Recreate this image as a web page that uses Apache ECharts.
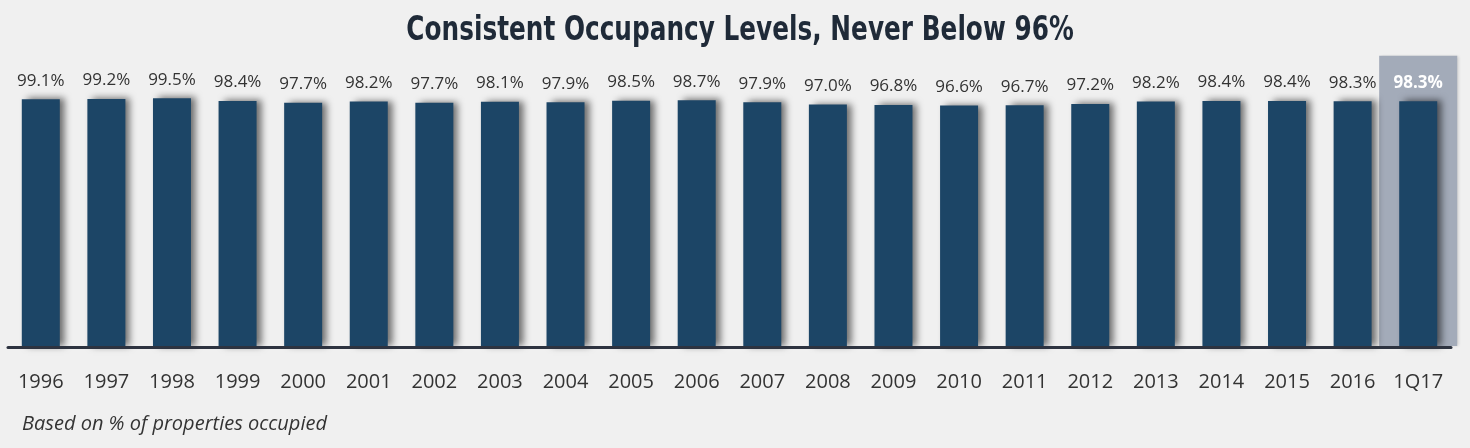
<!DOCTYPE html>
<html>
<head>
<meta charset="utf-8">
<script src="https://cdn.jsdelivr.net/npm/echarts@6/dist/echarts.min.js"></script>
<style>
   html, body { margin: 0; padding: 0; background: #f0f0f0; }
   #chart { width: 1470px; height: 448px; }
</style>
</head>
<body>
<div id="chart"></div>
<script>
// occupancy by year, last one is the quarter
const categories = ['1996', '1997', '1998', '1999', '2000', '2001', '2002', '2003', '2004', '2005', '2006',
   '2007', '2008', '2009', '2010', '2011', '2012', '2013', '2014', '2015', '2016', '1Q17'];
const occupancy = [99.1, 99.2, 99.5, 98.4, 97.7, 98.2, 97.7, 98.1, 97.9, 98.5, 98.7,
   97.9, 97.0, 96.8, 96.6, 96.7, 97.2, 98.2, 98.4, 98.4, 98.3, 98.3];
const highlightIndex = 21;
const highlightTop = 116.5;

const barColor = '#1c4566';

const barData = occupancy.map((v, i) => {
   if (i === highlightIndex) {
      return {
         value: v,
         label: { color: '#ffffff', fontWeight: 'bold' }
      };
   }
   return v;
});

echarts.init(document.getElementById('chart')).setOption({
   backgroundColor: '#f0f0f0',
   animation: false,
   // condensed title: no narrow font installed, so squeeze it
   graphic: [{
      type: 'text',
      x: 740,
      y: 31,
      scaleX: 0.81,
      silent: true,
      style: {
         text: 'Consistent Occupancy Levels, Never Below 96%',
         font: 'bold 34px "DejaVu Sans Condensed", "DejaVu Sans", Roboto',
         fill: '#1f2a38',
         textAlign: 'center',
         textVerticalAlign: 'middle',
         shadowColor: 'rgba(60,90,130,0.45)',
         shadowBlur: 4,
         shadowOffsetY: 1
      }
   }],
   title: {
      text: 'Based on % of properties occupied',
      left: 17,
      top: 409,
      textStyle: {
         fontFamily: 'Open Sans',
         fontStyle: 'italic',
         fontWeight: 'normal',
         fontSize: 20,
         color: '#333333'
      }
   },
   grid: {
      left: 8,
      right: 19,
      top: 47,
      bottom: 101
   },
   xAxis: {
      type: 'category',
      data: categories,
      axisTick: { show: false },
      axisLine: { lineStyle: { color: '#2d3340', width: 3 } },
      axisLabel: {
         interval: 0,
         fontFamily: 'Open Sans',
         fontSize: 20,
         color: '#333333',
         margin: 25
      },
      z: 5
   },
   yAxis: {
      type: 'value',
      min: 0,
      max: 120,
      show: false,
      splitLine: { show: false }
   },
   series: [{
      name: 'highlight',
      type: 'custom',
      silent: true,
      z: 1,
      data: [[highlightIndex, highlightTop]],
      renderItem: (params, api) => {
         const top = api.coord([api.value(0), api.value(1)]);
         const base = api.coord([api.value(0), 0]);
         const w = api.size([1, 0])[0] * 1.19;
         return {
            type: 'rect',
            shape: { x: top[0] - w / 2, y: top[1], width: w, height: base[1] - top[1] - 1 },
            style: {
               fill: '#a3abb9',
               shadowColor: 'rgba(0,0,0,0.15)',
               shadowBlur: 3,
               shadowOffsetX: 2
            }
         };
      }
   }, {
      name: 'Occupancy',
      type: 'bar',
      data: barData,
      barWidth: 38,
      z: 3,
      itemStyle: {
         color: barColor,
         shadowColor: 'rgba(0,0,0,0.55)',
         shadowBlur: 7,
         shadowOffsetX: 5,
         shadowOffsetY: -1
      },
      label: {
         show: true,
         position: 'top',
         distance: 10,
         fontFamily: 'Open Sans',
         fontSize: 17,
         color: '#333333',
         formatter: p => p.value.toFixed(1) + '%'
      }
   }]
});
</script>
</body>
</html>
